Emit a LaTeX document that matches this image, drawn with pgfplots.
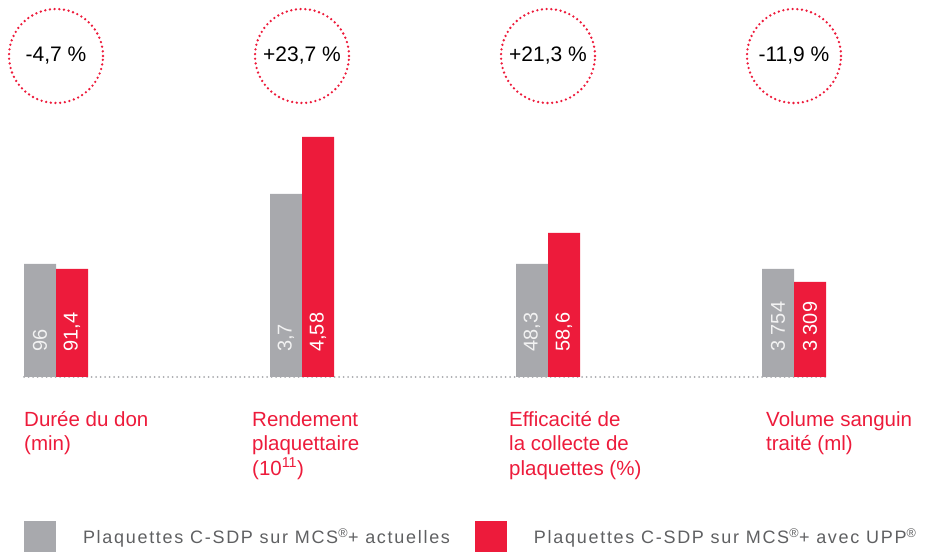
\documentclass[border=0pt]{standalone}
\usepackage{fontspec}
\setmainfont{Liberation Sans}
\newfontfamily\legfont[LetterSpace=9.5]{Liberation Sans}
\usepackage{pgfplots}
\pgfplotsset{compat=1.18}
\definecolor{tgray}{RGB}{168,169,173}
\definecolor{tred}{RGB}{237,27,59}
\definecolor{tleg}{RGB}{95,96,98}
\begin{document}
\begin{tikzpicture}
\begin{axis}[
  x=1pt, y=1pt,
  xmin=0, xmax=929, ymin=-175, ymax=377,
  clip=false,
  axis line style={draw=none},
  tick style={draw=none},
  ytick=\empty,
  xtick={24,252,509,766},
  xticklabels={
    {\rule{0pt}{18pt}Durée du don\\(min)},
    {\rule{0pt}{18pt}Rendement\\plaquettaire\\(10\textsuperscript{11})},
    {\rule{0pt}{18pt}Efficacité de\\la collecte de\\plaquettes (\%)},
    {\rule{0pt}{18pt}Volume sanguin\\traité (ml)}},
  xticklabel style={anchor=north west, align=left, inner sep=0pt,
    text=tred, font=\fontsize{20.5}{24.5}\selectfont, yshift=144pt},
  legend columns=2,
  legend style={at={(axis cs:24,-175)}, anchor=south west, draw=none, fill=none,
    inner sep=0pt, outer sep=0pt, nodes={inner sep=0pt, text=tleg},
    font=\legfont\fontsize{18}{20}\selectfont,
    /tikz/every odd column/.append style={column sep=27pt},
    /tikz/every even column/.append style={column sep=25pt}},
  legend cell align=left,
]
% dotted baseline
\addplot[forget plot, tgray, line width=2pt, dash pattern=on 0pt off 4.5pt, line cap=round]
  coordinates {(24,0) (826,0)};
% current
\addplot[ybar, bar width=32pt, bar shift=0pt, fill=tgray, draw=none,
  legend image code/.code={\fill[tgray] (0pt,-15.5pt) rectangle (32pt,15.5pt);},
  point meta=explicit symbolic,
  visualization depends on={rawy \as \rawy},
  nodes near coords,
  nodes near coords style={yshift={(25-\rawy)*1pt}, rotate=90, anchor=west, inner sep=0pt,
    text={rgb,255:red,242;green,242;blue,242}, font=\fontsize{20}{22}\selectfont}]
  coordinates {(40,113) [96] (286,183) [3,7] (532,113) [48,3] (778,108) [3 754]};
\addlegendentry{Plaquettes C-SDP sur MCS\textsuperscript{®}+ actuelles}
% with UPP
\addplot[ybar, bar width=32pt, bar shift=0pt, fill=tred, draw=none,
  legend image code/.code={\fill[tred] (0pt,-15.5pt) rectangle (32pt,15.5pt);},
  point meta=explicit symbolic,
  visualization depends on={rawy \as \rawy},
  nodes near coords,
  nodes near coords style={yshift={(25-\rawy)*1pt}, rotate=90, anchor=west, inner sep=0pt,
    text=white, font=\fontsize{20}{22}\selectfont}]
  coordinates {(72,108) [91,4] (318,240) [4,58] (564,144) [58,6] (810,95) [3 309]};
\addlegendentry{Plaquettes C-SDP sur MCS\textsuperscript{®}+ avec UPP\textsuperscript{®}}
% circles with variation
\addplot[forget plot, only marks, mark=o, mark size=47pt,
  mark options={draw=tred, line width=2.6pt, dash pattern=on 0pt off 4.7pt, line cap=round},
  point meta=explicit symbolic,
  nodes near coords,
  nodes near coords style={anchor=center, inner sep=0pt, text=black, font=\fontsize{21}{23}\selectfont}]
  coordinates {(56,321) [-4,7 \%] (302,321) [+23,7 \%] (548,321) [+21,3 \%] (794,321) [-11,9 \%]};
\path (rel axis cs:0,0) rectangle (rel axis cs:1,1);
\end{axis}
\end{tikzpicture}
\end{document}
